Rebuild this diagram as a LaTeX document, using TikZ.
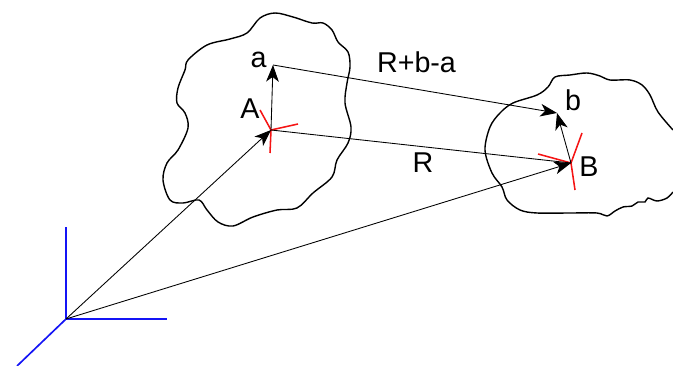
\documentclass[tikz,border=0pt]{standalone}
\usepackage{fontspec}
\setmainfont{Liberation Sans}
\usetikzlibrary{arrows.meta}
\definecolor{frameblue}{HTML}{1414F5}
\definecolor{framered}{HTML}{F51414}
\tikzset{
  body/.style={black,line width=1.05pt},
  basis/.style={frameblue,line width=1.25pt},
  local/.style={framered,line width=1.15pt},
  vec/.style={black,line width=0.65pt,-{Stealth[length=12.5pt,width=9.5pt,inset=3.5pt]}},
  plainvec/.style={black,line width=0.65pt},
  lab/.style={font=\fontsize{21.5}{21.5}\selectfont,inner sep=0pt,anchor=base},
}
\begin{document}
\begin{tikzpicture}[x=0.75pt,y=-0.75pt]
\useasboundingbox (0,0) rectangle (673,366);
% frames
\coordinate (O) at (66,319);
\coordinate (A) at (271,130);
\coordinate (B) at (571,163);
\coordinate (a) at (273,65);
\coordinate (b) at (557,113);
% bodies
\draw[body] plot[smooth cycle,tension=0.55] coordinates {(275,13) (293,17) (312,23) (323,23) (332,30) (338,42) (348,52) (350,67) (347,83) (345,103) (351,127) (348,143) (337,160) (332,177) (313,193) (297,208) (277,210) (253,217) (233,226) (218,222) (207,210) (199,200) (183,203) (170,200) (163,180) (167,163) (178,150) (188,128) (185,113) (177,103) (178,88) (185,70) (188,60) (207,45) (230,39) (247,33) (260,18)};
\draw[body] plot[smooth,tension=0.55] coordinates {(673,130) (658,112) (650,95) (642,85) (630,80) (610,80) (600,76) (587,73) (570,75) (555,77) (548,87) (537,95) (513,103) (500,113) (490,127) (485,150) (492,173) (502,187) (507,200) (520,210) (537,213) (570,213) (597,213) (607,216) (615,211) (623,207) (632,206) (638,202) (645,202) (648,198) (657,201) (667,198) (673,192)};
% base frame
\draw[basis] (O) -- (66,227);
\draw[basis] (O) -- (167,319);
\draw[basis] (O) -- (17,366);
% body frames
\draw[local] (A) -- (260,110);
\draw[local] (A) -- (298,124);
\draw[local] (A) -- (270,153);
\draw[local] (B) -- (538,154);
\draw[local] (B) -- (582,133);
\draw[local] (B) -- (575,190);
% vectors
\draw[vec] (O) -- (A);
\draw[vec] (O) -- (B);
\draw[plainvec] (A) -- (B);
\draw[vec] (A) -- (a);
\draw[vec] (a) -- (b);
\draw[vec] (B) -- (b);
% labels
\node[lab] (la) at (258.5,68) {a};
\node[lab] (lA) at (250,119) {A};
\node[lab] (lb) at (573,111) {b};
\node[lab] (lB) at (589,177) {B};
\node[lab] (lR) at (423,173) {R};
\node[lab] (lRba) at (416.5,73) {R+b-a};
\end{tikzpicture}
\end{document}
